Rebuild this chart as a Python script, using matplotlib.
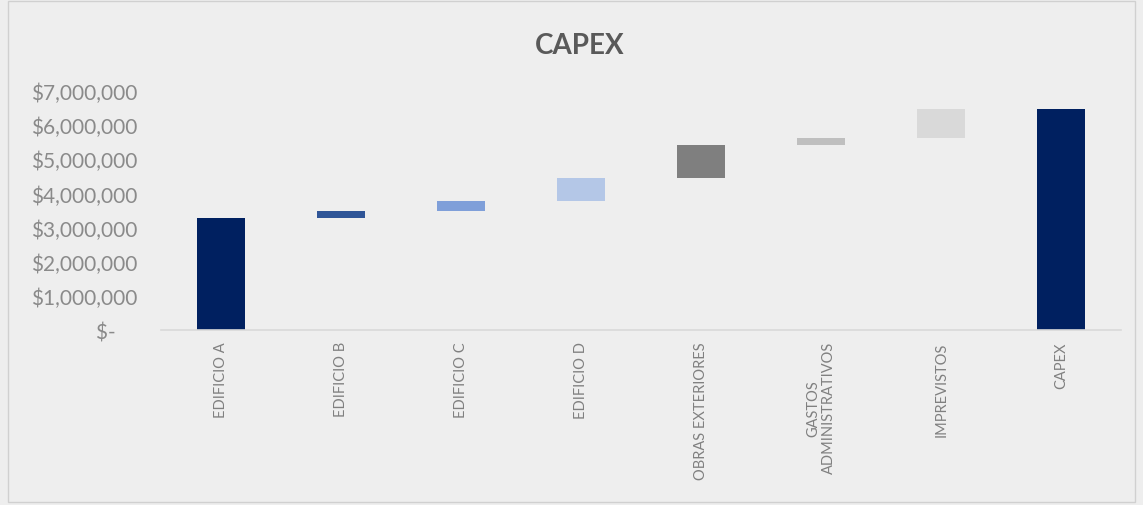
import matplotlib.pyplot as plt
from matplotlib.patches import Rectangle
from matplotlib.ticker import FuncFormatter

categories = ["EDIFICIO A", "EDIFICIO B", "EDIFICIO C", "EDIFICIO D",
              "OBRAS EXTERIORES", "GASTOS\nADMINISTRATIVOS", "IMPREVISTOS", "CAPEX"]
# increments (total is the last bar)
steps = [3270000, 230000, 290000, 660000, 960000, 220000, 830000]
colors = ["#002060", "#2F5597", "#7F9FD9", "#B4C7E7",
          "#7F7F7F", "#BFBFBF", "#D9D9D9", "#002060"]

total = sum(steps)
bottoms = []
heights = []
run = 0
for s in steps:
    bottoms.append(run)
    heights.append(s)
    run += s
bottoms.append(0)
heights.append(total)

plt.rcParams["font.family"] = ["Lato", "DejaVu Sans"]

fig = plt.figure(figsize=(11.43, 5.06), dpi=100, facecolor="#EEEEEE")
fig.patches.append(Rectangle((0.007, 0.006), 0.986, 0.99, transform=fig.transFigure,
                             fill=False, edgecolor="#D0D0D0", lw=1))
ax = fig.add_axes([0.1409, 0.3458, 0.84, 0.4724])
ax.set_facecolor("#EEEEEE")

x = range(len(categories))
ax.bar(x, heights, bottom=bottoms, width=0.4, color=colors)

ax.set_xlim(-0.5, len(categories) - 0.5)
ax.set_ylim(0, 7000000)
ax.set_yticks(range(0, 7000001, 1000000))


def money(v, pos):
    if v == 0:
        return "$-    "
    return "${:,.0f}".format(v)


ax.yaxis.set_major_formatter(FuncFormatter(money))
ax.set_xticks(list(x))
ax.set_xticklabels(categories, rotation=90, fontsize=10.5, color="#808080",
                   multialignment="center")
for lab in ax.get_yticklabels():
    lab.set_fontsize(15)
    lab.set_color("#8A8A8A")

for side in ["top", "right", "left"]:
    ax.spines[side].set_visible(False)
ax.spines["bottom"].set_color("#D9D9D9")
ax.spines["bottom"].set_linewidth(1.2)
ax.tick_params(length=0, pad=8)
ax.tick_params(axis="y", pad=17)

fig.text(0.507, 0.91, "CAPEX", ha="center", va="center", fontsize=20,
         fontweight="bold", color="#595959")

fig.savefig("out.png", dpi=100, facecolor=fig.get_facecolor())
